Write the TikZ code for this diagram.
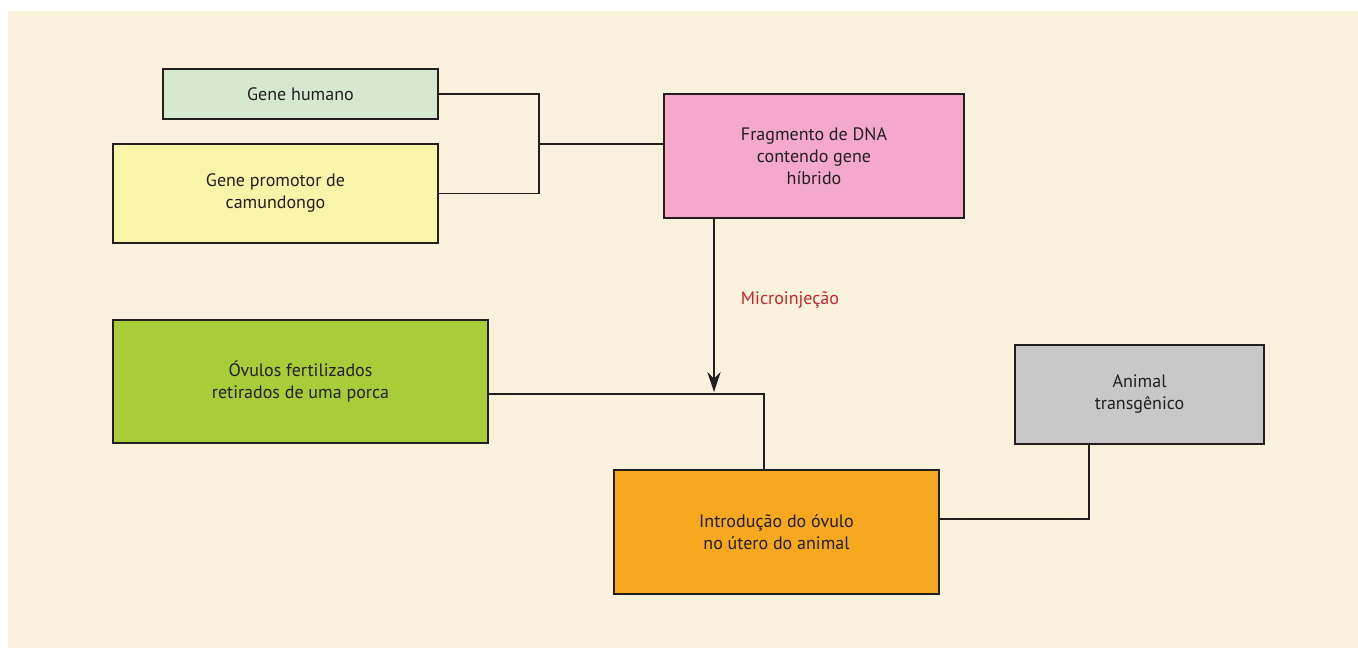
\documentclass[tikz,border=0pt]{standalone}
\usepackage{fontspec}
\setmainfont{PT Sans}
\usetikzlibrary{arrows.meta}
\definecolor{paper}{HTML}{FBF2DE}
\definecolor{inkgray}{HTML}{231F20}
\definecolor{cgreenpale}{HTML}{D7E8D0}
\definecolor{cyellow}{HTML}{F8F4A8}
\definecolor{cpink}{HTML}{F4A9CC}
\definecolor{clime}{HTML}{A8CD38}
\definecolor{corange}{HTML}{F6A81E}
\definecolor{cgray}{HTML}{C8C8C8}
\definecolor{cred}{HTML}{C0272D}
\tikzset{
  labelfont/.style={font=\fontsize{13.5}{16.5}\selectfont},
  box/.style={draw=inkgray, line width=1.5pt, align=center, text=inkgray,
    inner sep=0pt, labelfont},
  link/.style={draw=inkgray, line width=1.1pt},
}
\begin{document}
\begin{tikzpicture}[x=0.75pt, y=-0.75pt]
  % page and panel
  \fill[white] (0,0) rectangle (1358,648);
  \fill[paper] (8,11) rectangle (1358,648);

  % boxes
  \node[box, fill=cgreenpale, minimum width=206.25pt, minimum height=37.5pt]
    (gh) at (300.5,94) {Gene humano};
  \node[box, fill=cyellow, minimum width=243.75pt, minimum height=74.25pt]
    (gp) at (275.5,193.5) {Gene promotor de\\camundongo};
  \node[box, fill=cpink, minimum width=225pt, minimum height=93pt]
    (fr) at (814,156) {Fragmento de DNA\\contendo gene\\híbrido};
  \node[box, fill=clime, minimum width=281.25pt, minimum height=92.25pt]
    (ov) at (300.5,381.5) {Óvulos fertilizados\\retirados de uma porca};
  \node[box, fill=corange, minimum width=243.75pt, minimum height=93pt]
    (in) at (776.5,532) {Introdução do óvulo\\no útero do animal};
  \node[box, fill=cgray, minimum width=186.75pt, minimum height=74.25pt]
    (an) at (1139.5,394.5) {Animal\\transgênico};

  % label of the injection step
  \node[text=cred, labelfont] (mi) at (790,300) {Microinjeção};

  % junctions
  \coordinate (jn) at (539,144);
  \coordinate (tip) at (714,392);
  \coordinate (bend) at (764,394);
  \coordinate (kn) at (1089,519);

  % connectors
  \draw[link] (gh.east) -| (jn) |- (gp.east);
  \draw[link] (jn) -- (fr.west |- jn);
  \draw[link, -{Stealth[length=15pt, width=10pt, inset=5pt]}] (fr.south -| tip) -- (tip);
  \draw[link] (ov.east |- bend) -- (bend) -- (in.north -| bend);
  \draw[link] (in.east |- kn) -| (an.south -| kn);
\end{tikzpicture}
\end{document}
